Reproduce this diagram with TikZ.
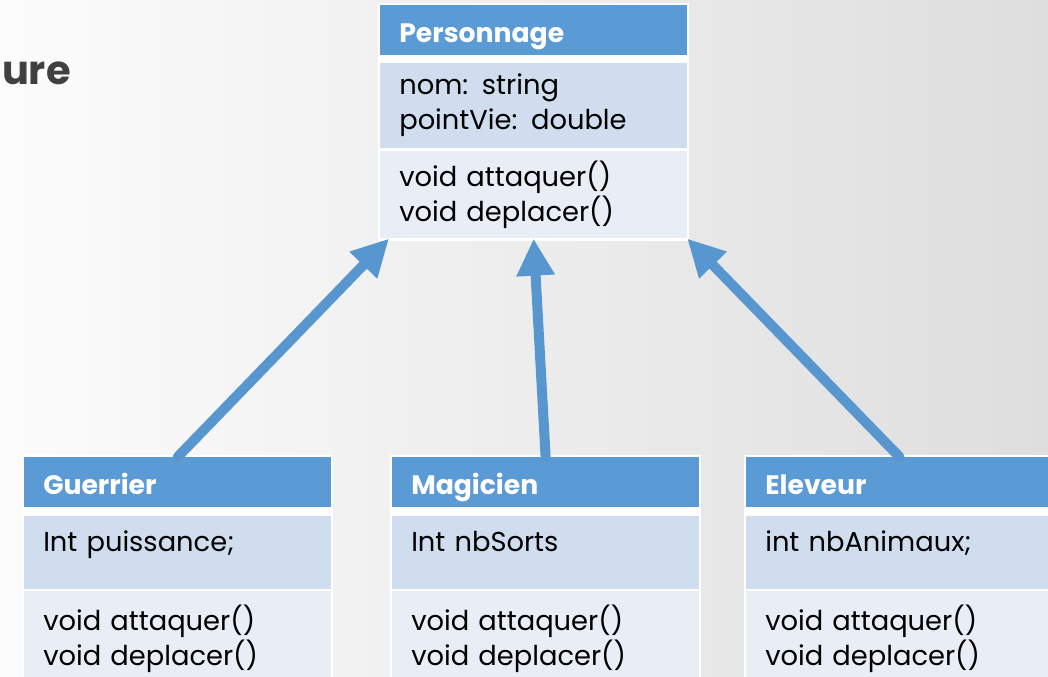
\documentclass[tikz,border=0pt]{standalone}
\usepackage{fontspec}
\setmainfont{Poppins}
\usetikzlibrary{arrows.meta, positioning, fit, backgrounds}
\definecolor{umlblue}{RGB}{91,155,213}
\definecolor{attrblue}{RGB}{207,221,238}
\definecolor{methblue}{RGB}{232,237,246}
\definecolor{arrowblue}{RGB}{88,150,208}
\definecolor{titlegray}{RGB}{64,64,64}

\begin{document}
\begin{tikzpicture}[x=0.75pt, y=-0.75pt,
    >={Triangle[length=27.75pt, width=27pt]},
    classbox/.style={minimum width=230pt, text width=201.5pt, inner xsep=14.25pt,
                     align=left, font=\fontsize{20.5}{26.25}\selectfont},
    classhead/.style={classbox, fill=umlblue, text=white, minimum height=37.5pt,
                      text height=18pt, text depth=0pt,
                      font=\bfseries\fontsize{20}{22}\selectfont, anchor=north west},
    attrrow/.style={classbox, fill=attrblue, minimum height=#1},
    methrow/.style={classbox, fill=methblue, minimum height=#1},
    frame/.style={fill=white, inner sep=1.5pt},
    inherit/.style={->, line width=7.5pt, line cap=round, arrowblue}]

  \useasboundingbox (0,0) rectangle (1048,677);

  % Background
  \begin{scope}[on background layer]
    \shade[left color={rgb,255:red,252;green,252;blue,252},
           right color={rgb,255:red,222;green,222;blue,222}] (0,0) rectangle (1048,677);
  \end{scope}

  % Title (cut)
  \node[anchor=base east, inner sep=0, text=titlegray,
        font=\bfseries\fontsize{30}{36}\selectfont] (title) at (71,85) {ure};

  % Parent class
  \node[classhead] (ph) at (380,5) {Personnage};
  \node[attrrow=63.75pt, below=5.25pt of ph] (pa) {nom: string\\pointVie: double};
  \node[methrow=65.25pt, below=2.25pt of pa] (pm) {void attaquer()\\void deplacer()};

  % Child classes
  \node[classhead] (gh) at (24,457) {Guerrier};
  \node[attrrow=54.75pt, text height=14.5pt, text depth=16pt, below=6pt of gh] (ga) {Int puissance;};
  \node[methrow=71.25pt, below=1.5pt of ga] (gm) {void attaquer()\\void deplacer()};

  \node[classhead] (mh) at (392,457) {Magicien};
  \node[attrrow=54.75pt, text height=14.5pt, text depth=16pt, below=6pt of mh] (ma) {Int nbSorts};
  \node[methrow=71.25pt, below=1.5pt of ma] (mm) {void attaquer()\\void deplacer()};

  \node[classhead] (eh) at (746,457) {Eleveur};
  \node[attrrow=54.75pt, text height=14.5pt, text depth=16pt, below=6pt of eh] (ea) {int nbAnimaux;};
  \node[methrow=71.25pt, below=1.5pt of ea] (em) {void attaquer()\\void deplacer()};

  % White frames
  \begin{scope}[on background layer]
    \node[frame, fit=(ph)(pm)] (pframe) {};
    \node[frame, fit=(gh)(gm)] (gframe) {};
    \node[frame, fit=(mh)(mm)] (mframe) {};
    \node[frame, fit=(eh)(em)] (eframe) {};
  \end{scope}

  % Inheritance
  \draw[inherit] (gh.north) -- ([xshift=6.75pt]pm.south west);
  \draw[inherit] (mh.north) -- (pm.south);
  \draw[inherit] (eh.north) -- (pm.south east);
\end{tikzpicture}
\end{document}
